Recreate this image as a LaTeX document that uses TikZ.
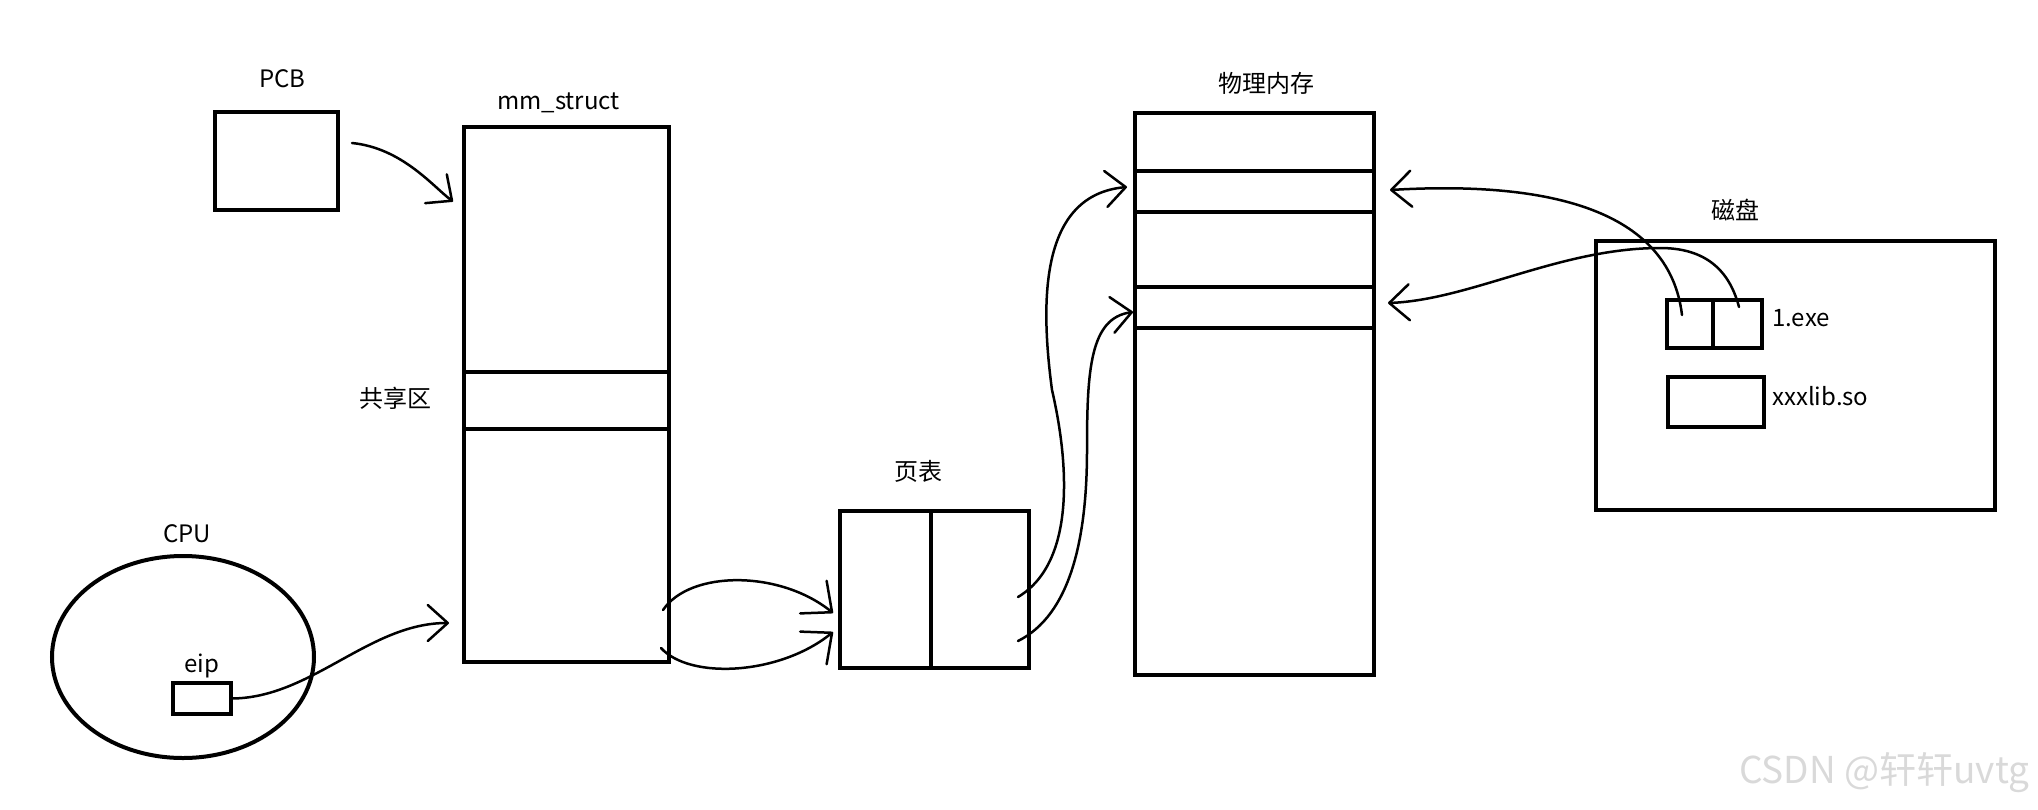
\documentclass[tikz,border=0pt]{standalone}
\usepackage{fontspec}
\setmainfont{Noto Sans CJK SC}
\usetikzlibrary{arrows.meta,positioning,shapes.geometric,calc}

\begin{document}
\begin{tikzpicture}[x=1pt,y=-1pt,font=\fontsize{24}{28}\selectfont,
  cell/.style n args={2}{draw,line width=4pt,inner sep=0pt,outer sep=0pt,minimum width=#1,minimum height=#2},
  lbl/.style={inner sep=0pt,text height=18pt,text depth=4pt},
  link/.style={line width=2.5pt,line cap=round,-{Straight Barb[length=20pt,width=36pt,round]}}]
\useasboundingbox (0,0) rectangle (2038,809);

% process side
\node[cell={123pt}{98pt}] (pcb) at (276.5,161) {};
\node[lbl,above=20pt of pcb,xshift=6pt] {PCB};
\node[cell={205pt}{245pt}] (mmtop) at (566.5,249.5) {};
\node[cell={205pt}{57pt},below=0pt of mmtop] (mmshare) {};
\node[cell={205pt}{233pt},below=0pt of mmshare] (mmbot) {};
\node[lbl,above=13pt of mmtop,xshift=-8pt] {mm\_struct};
\node[lbl,left=32pt of mmshare] {共享区};
\node[draw,ellipse,line width=4pt,inner sep=0pt,minimum width=262pt,minimum height=202pt] (cpu) at (183,657) {};
\node[lbl,above=7pt of cpu,xshift=4pt] {CPU};
\node[cell={58pt}{31pt}] (eip) at (202,698.5) {};
\node[lbl,above=6pt of eip] {eip};

% page table
\node[cell={91pt}{157pt}] (ptl) at (885.5,589.5) {};
\node[cell={98pt}{157pt},right=0pt of ptl] (ptr) {};
\node[lbl,above=26pt of ptl.north east,xshift=-13pt] {页表};

% physical memory
\node[cell={239pt}{58pt}] (mem1) at (1254.5,142) {};
\node[cell={239pt}{41pt},below=0pt of mem1] (mem2) {};
\node[cell={239pt}{75pt},below=0pt of mem2] (mem3) {};
\node[cell={239pt}{41pt},below=0pt of mem3] (mem4) {};
\node[cell={239pt}{347pt},below=0pt of mem4] (mem5) {};
\node[lbl,above=16pt of mem1,xshift=12pt] {物理内存};

% disk
\node[cell={399pt}{269pt}] (disk) at (1795.5,375.5) {};
\node[lbl,above=17pt of disk,xshift=-60pt] {磁盘};
\node[cell={46pt}{48pt}] (exel) at (1690,324) {};
\node[cell={49pt}{48pt},right=0pt of exel] (exer) {};
\node[lbl,right=10pt of exer,yshift=5pt] {1.exe};
\node[cell={96pt}{50pt}] (lib) at (1716,402) {};
\node[lbl,right=8pt of lib,yshift=4pt] {xxxlib.so};

\node[text=gray!30,font=\fontsize{37}{40}\selectfont,anchor=east] (mark) at (2033,773) {CSDN @轩轩uvtg};

% links
\draw[link] ($(pcb.east)+(14,-18)$) .. controls +(50,5) and +(-20,-15) .. ($(mmtop.west)+(-11,-48)$);
\draw[link] (eip.east) .. controls +(80,0) and +(-80,0) .. ($(mmbot.west)+(-15,77.5)$);
\draw[link,-{Straight Barb[length=24pt,width=42pt,round]}] ($(mmbot.east)+(-6,64.5)$) .. controls +(27,-40) and +(-53,-43) .. ($(ptl.west)+(-7,23.5)$);
\draw[link,-{Straight Barb[length=24pt,width=42pt,round]}] ($(mmbot.east)+(-8,102.5)$) .. controls +(29,32) and +(-53,43) .. ($(ptl.west)+(-7,42.5)$);
\draw[link] ($(ptr.east)+(-11,7.5)$) .. controls (1080,560) and (1066,450) .. (1052,390) .. controls (1040,300) and (1040,195) .. ($(mem2.west)+(-8,-4.5)$);
\draw[link] ($(ptr.east)+(-11,51.5)$) .. controls (1070,615) and (1087,540) .. (1087,450) .. controls (1087,370) and (1090,318) .. ($(mem4.west)+(-2,4.5)$);
\draw[link] ($(exel.center)+(-8,-9)$) .. controls +(-12,-100) and +(170,-10) .. ($(mem2.east)+(16,-1.5)$);
\draw[link] ($(exer.center)+(1.5,-17)$) .. controls (1728,265) and (1700,248) .. (1660,248) .. controls (1560,248) and (1470,300) .. ($(mem4.east)+(14,-4.5)$);
\end{tikzpicture}
\end{document}
